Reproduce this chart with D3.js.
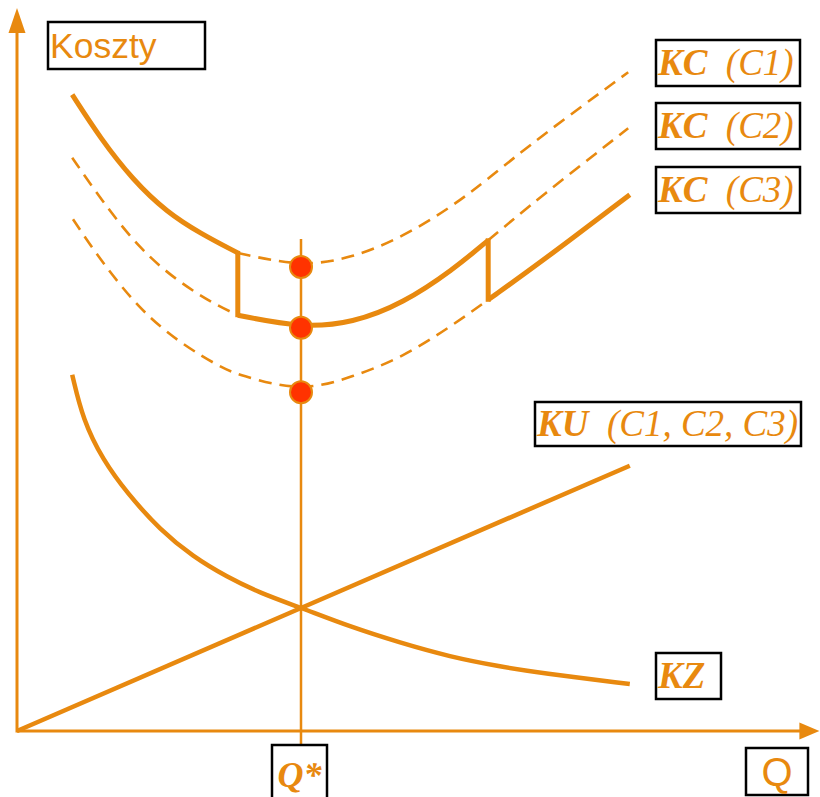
<!DOCTYPE html>
<html>
<head>
<meta charset="utf-8">
<script src="https://cdn.jsdelivr.net/npm/d3@7"></script>
<style>
  body { margin: 0; background: #ffffff; }
  svg { display: block; }
</style>
</head>
<body>
<div id="chart"></div>
<script>
// quantity Q (0-100) and cost (0-100)
const qStar = 35.5;
const qBreaks = [27.6, 58.9];

const kcC1 = [[6.9, 90.9], [10.4, 84.7], [14.5, 78.7], [18.75, 74.1], [22.9, 71.1], [27.6, 68.3],
  [35.5, 66.3], [42.0, 67.6], [48.25, 70.6], [54.5, 75.0], [58.9, 78.9], [65.4, 84.9], [76.4, 94.1]];
const kcC2 = [[6.9, 81.9], [10.4, 76.1], [15.4, 68.7], [20.4, 64.0], [24.5, 61.1], [27.6, 59.4],
  [35.5, 57.6], [42.0, 58.3], [48.25, 61.1], [54.5, 65.9], [58.9, 70.1], [65.4, 76.3], [76.4, 86.1]];
const kcC3 = [[7.0, 73.1], [10.4, 67.3], [15.4, 60.1], [20.4, 55.4], [25.4, 52.0], [27.6, 50.9],
  [35.5, 48.4], [42.0, 50.6], [48.25, 53.4], [54.5, 58.0], [58.9, 61.6], [65.4, 66.9], [76.6, 76.6]];
const kz = [[6.9, 50.9], [8.25, 44.4], [10.75, 38.7], [13.75, 34.0], [17.9, 28.7], [22.0, 24.9],
  [26.25, 22.0], [30.4, 19.7], [35.5, 17.6], [41.6, 14.9], [47.9, 12.6], [54.1, 10.6],
  [60.4, 9.2], [65.4, 8.3], [76.6, 6.7]];
const ku = [[0, 0], [76.6, 37.9]];

const yTitle = 'Koszty';
const xTitle = 'Q';
const qStarLabel = 'Q*';
const kcLabels = [['KC', '  (C1)'], ['KC', '  (C2)'], ['KC', '  (C3)']];
const kuLabel = ['KU', '  (C1, C2, C3)'];
const kzLabel = ['KZ', ''];

const W = 820, H = 797;
const orange = '#e8890f';
const dotFill = '#ff3300';

const svg = d3.select('#chart').append('svg')
  .attr('width', W)
  .attr('height', H);

const x = d3.scaleLinear().domain([0, 100]).range([17, 817]);
const y = d3.scaleLinear().domain([0, 100]).range([731, 31]);

const line = d3.line()
  .x(d => x(d[0]))
  .y(d => y(d[1]))
  .curve(d3.curveBasis);

const valueAt = (series, q) => series.find(d => d[0] === q)[1];

// axes with arrow heads
const g = svg.append('g');
g.append('line')
  .attr('x1', x(0)).attr('y1', y(0))
  .attr('x2', x(100.3) - 18).attr('y2', y(0))
  .attr('stroke', orange).attr('stroke-width', 3);
g.append('path')
  .attr('d', `M${x(100.3)},${y(0)} L${x(100.3) - 20},${y(0) - 8.5} L${x(100.3) - 20},${y(0) + 8.5}Z`)
  .attr('fill', orange);
g.append('line')
  .attr('x1', x(0)).attr('y1', y(0) + 1.5)
  .attr('x2', x(0)).attr('y2', y(103.3) + 22)
  .attr('stroke', orange).attr('stroke-width', 3);
g.append('path')
  .attr('d', `M${x(0)},${y(103.3)} L${x(0) - 8.5},${y(103.3) + 25} L${x(0) + 8.5},${y(103.3) + 25}Z`)
  .attr('fill', orange);

// vertical line at Q*
g.append('line')
  .attr('x1', x(qStar)).attr('x2', x(qStar))
  .attr('y1', y(valueAt(kcC1, qStar)) - 28)
  .attr('y2', y(0) + 17)
  .attr('stroke', orange).attr('stroke-width', 2.5);

// KU and KZ
g.append('path').attr('d', line(ku))
  .attr('fill', 'none').attr('stroke', orange).attr('stroke-width', 4.5);
g.append('path').attr('d', line(kz))
  .attr('fill', 'none').attr('stroke', orange).attr('stroke-width', 4.5);

// dashed parts of the KC curves
const [q1, q2] = qBreaks;
const dashed = [
  kcC1.filter(d => d[0] >= q1),
  kcC2.filter(d => d[0] <= q1),
  kcC2.filter(d => d[0] >= q2),
  kcC3.filter(d => d[0] <= q2)
];
g.selectAll('.dash').data(dashed).enter()
  .append('path')
  .attr('class', 'dash')
  .attr('d', d => line(d))
  .attr('fill', 'none')
  .attr('stroke', orange)
  .attr('stroke-width', 2.6)
  .attr('stroke-dasharray', '13,8');

// solid lower envelope
const solid = [
  kcC1.filter(d => d[0] <= q1),
  kcC2.filter(d => d[0] >= q1 && d[0] <= q2),
  kcC3.filter(d => d[0] >= q2)
];
g.selectAll('.solid').data(solid).enter()
  .append('path')
  .attr('class', 'solid')
  .attr('d', d => line(d))
  .attr('fill', 'none')
  .attr('stroke', orange)
  .attr('stroke-width', 5);
const drops = [[q1, valueAt(kcC1, q1), valueAt(kcC2, q1)], [q2, valueAt(kcC2, q2), valueAt(kcC3, q2)]];
g.selectAll('.drop').data(drops).enter()
  .append('line')
  .attr('class', 'drop')
  .attr('x1', d => x(d[0])).attr('x2', d => x(d[0]))
  .attr('y1', d => y(d[1]) - 2).attr('y2', d => y(d[2]) + 2)
  .attr('stroke', orange)
  .attr('stroke-width', 5);

// points at Q*
g.selectAll('.dot').data([kcC1, kcC2, kcC3].map(s => valueAt(s, qStar))).enter()
  .append('circle')
  .attr('class', 'dot')
  .attr('cx', x(qStar))
  .attr('cy', d => y(d))
  .attr('r', 11)
  .attr('fill', dotFill)
  .attr('stroke', orange)
  .attr('stroke-width', 2);

// labels in boxes
const boxes = [
  {rect: [48, 22, 157, 47], parts: [yTitle], font: 'sans', size: 35.5, base: 36},
  {rect: [656, 40, 144, 46], parts: kcLabels[0], font: 'serif', size: 37, base: 35},
  {rect: [656, 103, 144, 46], parts: kcLabels[1], font: 'serif', size: 37, base: 35},
  {rect: [656, 167, 144, 46], parts: kcLabels[2], font: 'serif', size: 37, base: 35},
  {rect: [535, 402, 266, 44], parts: kuLabel, font: 'serif', size: 37, base: 34},
  {rect: [656, 653, 65, 46], parts: kzLabel, font: 'serif', size: 37, base: 35},
  {rect: [272, 745, 55, 60], parts: [qStarLabel], font: 'serifQ', size: 36, base: 42, center: true},
  {rect: [746, 748, 62, 47], parts: [xTitle], font: 'sans', size: 40, base: 38, center: true}
];

for (const b of boxes) {
  const [bx, by, bw, bh] = b.rect;
  svg.append('rect')
    .attr('x', bx).attr('y', by)
    .attr('width', bw).attr('height', bh)
    .attr('fill', '#ffffff')
    .attr('stroke', '#000000')
    .attr('stroke-width', 2.5);
  const t = svg.append('text')
    .attr('x', b.center ? bx + bw / 2 : bx + 2)
    .attr('y', by + b.base)
    .attr('text-anchor', b.center ? 'middle' : 'start')
    .style('fill', orange)
    .style('font-size', b.size + 'px')
    .style('white-space', 'pre');
  if (b.font === 'sans') {
    t.style('font-family', '"Liberation Sans", Arial, sans-serif').text(b.parts[0]);
  } else if (b.font === 'serifQ') {
    t.style('font-family', '"Liberation Serif", "Times New Roman", serif')
      .style('font-style', 'italic')
      .style('font-weight', 'bold')
      .text(b.parts[0]);
  } else {
    t.style('font-family', '"Liberation Serif", "Times New Roman", serif')
      .style('font-style', 'italic');
    t.append('tspan').style('font-weight', 'bold').text(b.parts[0]);
    if (b.parts[1]) t.append('tspan').style('font-weight', 'normal').text(b.parts[1]);
  }
}
</script>
</body>
</html>
